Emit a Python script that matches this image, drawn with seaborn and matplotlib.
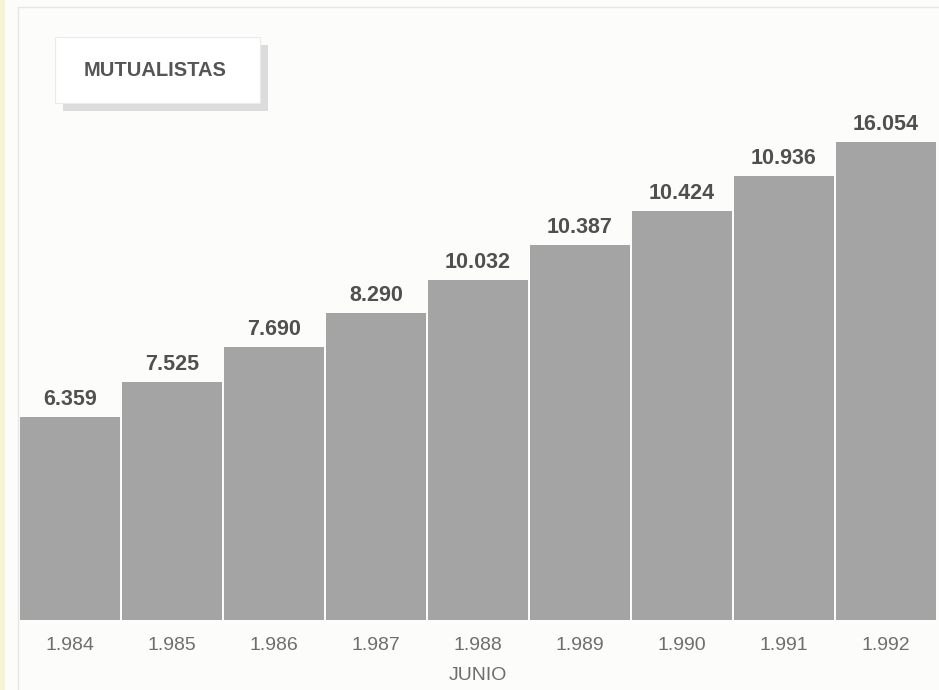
import matplotlib
matplotlib.use('Agg')
import matplotlib.pyplot as plt
from matplotlib.patches import Rectangle
import seaborn as sns
import pandas as pd

# Data
years = ['1.984', '1.985', '1.986', '1.987', '1.988', '1.989', '1.990', '1.991', '1.992']
value_labels = ['6.359', '7.525', '7.690', '8.290', '10.032', '10.387', '10.424', '10.936', '16.054']
# drawn bar heights (the printed chart uses an even staircase, not the values)
bar_heights = [203, 238, 273, 307, 340, 375, 409, 444, 478]

df = pd.DataFrame({'year': years, 'height': bar_heights, 'label': value_labels})

sns.set_style('white')
plt.rcParams['font.family'] = ['Liberation Sans Narrow', 'Liberation Sans', 'DejaVu Sans']

bg = '#fcfcfa'
fig = plt.figure(figsize=(9.39, 6.9), dpi=100, facecolor=bg)
W, H = 939, 690

# scan edge and faint frame
fig.patches.append(Rectangle((0, 0), 5 / W, 1, transform=fig.transFigure,
                             facecolor='#f8f3d2', edgecolor='none', zorder=0))
fig.add_artist(plt.Line2D([18 / W, 18 / W], [0, 1 - 7 / H], transform=fig.transFigure,
                          color='#e6e6e2', lw=1))
fig.add_artist(plt.Line2D([18 / W, 1], [1 - 7 / H, 1 - 7 / H], transform=fig.transFigure,
                          color='#e6e6e2', lw=1))

ax = fig.add_axes([19 / W, 70 / H, 918 / W, 500 / H])
ax.set_facecolor('none')
sns.barplot(data=df, x='year', y='height', color='#a4a4a4', saturation=1,
            width=0.98, ax=ax, edgecolor='none')
ax.set_xlim(-0.5, len(years) - 0.5)
ax.set_ylim(0, 500)
sns.despine(ax=ax, left=True, bottom=True)
ax.set_yticks([])
ax.set_xlabel('')
ax.set_ylabel('')
ax.tick_params(axis='x', length=0, pad=12)
ax.set_xticks(range(len(years)))
ax.set_xticklabels(years, fontsize=14, color='#6e6e6e')

for i, (h, lab) in enumerate(zip(bar_heights, value_labels)):
    ax.annotate(lab, (i, h), xytext=(0, 5), textcoords='offset points',
                ha='center', va='bottom', fontsize=15.5, fontweight='bold', color='#505050')

ax.annotate('JUNIO', (4, 0), xytext=(0, -40), textcoords='offset points',
            ha='center', va='center', fontsize=14, color='#6e6e6e')

# title box with shadow
fig.patches.append(Rectangle((63 / W, 1 - 111 / H), 205 / W, 66 / H, transform=fig.transFigure,
                             facecolor='#dcdcdc', edgecolor='none', zorder=1))
fig.patches.append(Rectangle((55 / W, 1 - 103 / H), 205 / W, 66 / H, transform=fig.transFigure,
                             facecolor='white', edgecolor='#ebebeb', lw=0.8, zorder=2))
fig.text(155 / W, 1 - 70 / H, 'MUTUALISTAS', ha='center', va='center', fontsize=14.5,
         fontweight='bold', color='#555555', zorder=3)

fig.savefig('out.png', dpi=100, facecolor=bg)
